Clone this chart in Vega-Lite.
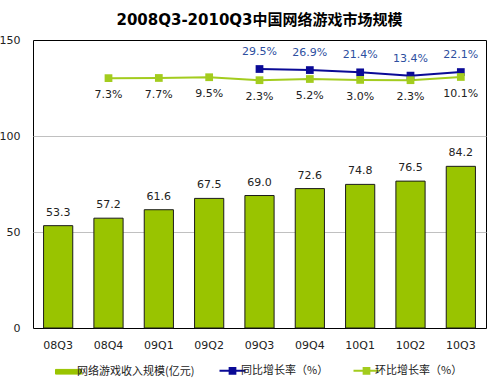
{
  "$schema": "https://vega.github.io/schema/vega-lite/v6.json",
  "width": 453,
  "height": 288,
  "autosize": "none",
  "padding": {"left": 33, "top": 40, "right": 2, "bottom": 58},
  "background": "#ffffff",
  "title": {
    "text": "2008Q3-2010Q3中国网络游戏市场规模",
    "font": "DejaVu Sans, Noto Sans CJK SC",
    "fontSize": 15,
    "fontWeight": "bold",
    "color": "#000000",
    "anchor": "middle",
    "offset": 6
  },
  "config": {
    "view": {"stroke": "#000000", "strokeWidth": 1},
    "font": "DejaVu Sans",
    "legend": {
      "title": null,
      "orient": "none",
      "legendX": 30,
      "legendY": 325,
      "direction": "horizontal",
      "symbolSize": 676,
      "labelFont": "Noto Sans CJK SC",
      "labelFontSize": 11,
      "labelColor": "#222222",
      "columnPadding": 20,
      "labelOffset": 3
    }
  },
  "datasets": {
    "rev": [
      {"quarter": "08Q3", "value": 53.3},
      {"quarter": "08Q4", "value": 57.2},
      {"quarter": "09Q1", "value": 61.6},
      {"quarter": "09Q2", "value": 67.5},
      {"quarter": "09Q3", "value": 69.0},
      {"quarter": "09Q4", "value": 72.6},
      {"quarter": "10Q1", "value": 74.8},
      {"quarter": "10Q2", "value": 76.5},
      {"quarter": "10Q3", "value": 84.2}
    ],
    "growth": [
      {"quarter": "09Q3", "series": "同比增长率（%）", "rate": 0.295},
      {"quarter": "09Q4", "series": "同比增长率（%）", "rate": 0.269},
      {"quarter": "10Q1", "series": "同比增长率（%）", "rate": 0.214},
      {"quarter": "10Q2", "series": "同比增长率（%）", "rate": 0.134},
      {"quarter": "10Q3", "series": "同比增长率（%）", "rate": 0.221},
      {"quarter": "08Q4", "series": "环比增长率（%）", "rate": 0.073},
      {"quarter": "09Q1", "series": "环比增长率（%）", "rate": 0.077},
      {"quarter": "09Q2", "series": "环比增长率（%）", "rate": 0.095},
      {"quarter": "09Q3", "series": "环比增长率（%）", "rate": 0.023},
      {"quarter": "09Q4", "series": "环比增长率（%）", "rate": 0.052},
      {"quarter": "10Q1", "series": "环比增长率（%）", "rate": 0.030},
      {"quarter": "10Q2", "series": "环比增长率（%）", "rate": 0.023},
      {"quarter": "10Q3", "series": "环比增长率（%）", "rate": 0.101}
    ]
  },
  "layer": [
    {
      "data": {"name": "rev"},
      "encoding": {
        "x": {
          "field": "quarter",
          "type": "nominal",
          "scale": {"paddingInner": 0.42, "paddingOuter": 0.21},
          "axis": {
            "title": null,
            "labelAngle": 0,
            "ticks": false,
            "domain": false,
            "labelPadding": 11,
            "labelFontSize": 11,
            "labelColor": "#222222",
            "labelFont": "DejaVu Sans"
          }
        },
        "y": {
          "field": "value",
          "type": "quantitative",
          "scale": {"domain": [0, 150]},
          "axis": {
            "title": null,
            "values": [0, 50, 100, 150],
            "ticks": false,
            "domain": false,
            "labelPadding": 13,
            "labelFontSize": 11,
            "labelColor": "#222222",
            "labelFont": "DejaVu Sans",
            "grid": true,
            "gridColor": {"condition": {"test": "datum.value === 50 || datum.value === 100", "value": "#c0c0c0"}, "value": "transparent"}
          }
        }
      },
      "layer": [
        {
          "mark": {"type": "bar", "stroke": "#1a1a1a", "strokeWidth": 1},
          "encoding": {
            "color": {
              "datum": "网络游戏收入规模(亿元)",
              "type": "nominal",
              "scale": {
                "domain": ["网络游戏收入规模(亿元)", "同比增长率（%）", "环比增长率（%）"],
                "range": ["#99c400", "#0a0a96", "#a3cc1e"]
              },
              "legend": {
                "title": null,
                "encode": {
                  "symbols": {
                    "update": {
                      "shape": {"signal": "datum.value === '网络游戏收入规模(亿元)' ? 'M-1,-0.18H1V0.18H-1Z' : 'M-1,0H1M-0.22,-0.22H0.22V0.22H-0.22Z'"},
                      "fill": {"signal": "datum.value === '网络游戏收入规模(亿元)' ? '#99c400' : (datum.value === '同比增长率（%）' ? '#0a0a96' : '#a3cc1e')"},
                      "stroke": {"signal": "datum.value === '网络游戏收入规模(亿元)' ? '#1a1a1a' : (datum.value === '同比增长率（%）' ? '#0a0a96' : '#a3cc1e')"},
                      "strokeWidth": {"signal": "datum.value === '网络游戏收入规模(亿元)' ? 1 : 2"},
                      "opacity": {"value": 1},
                      "fillOpacity": {"value": 1}
                    }
                  }
                }
              }
            }
          }
        },
        {
          "mark": {"type": "text", "baseline": "bottom", "dy": -8, "fontSize": 11, "color": "#222222", "font": "DejaVu Sans"},
          "encoding": {
            "text": {"field": "value", "type": "quantitative", "format": ".1f"}
          }
        }
      ]
    },
    {
      "data": {"name": "growth"},
      "encoding": {
        "x": {"field": "quarter", "type": "nominal"},
        "y": {
          "field": "rate",
          "type": "quantitative",
          "scale": {"domain": [-6, 1]},
          "axis": null
        }
      },
      "layer": [
        {
          "mark": {"type": "line", "strokeWidth": 2, "point": {"shape": "square", "size": 60, "filled": true, "opacity": 1}},
          "encoding": {
            "color": {
              "field": "series",
              "type": "nominal",
              "legend": {
                "title": null,
                "encode": {
                  "symbols": {
                    "update": {
                      "shape": {"signal": "datum.value === '网络游戏收入规模(亿元)' ? 'M-1,-0.18H1V0.18H-1Z' : 'M-1,0H1M-0.22,-0.22H0.22V0.22H-0.22Z'"},
                      "fill": {"signal": "datum.value === '网络游戏收入规模(亿元)' ? '#99c400' : (datum.value === '同比增长率（%）' ? '#0a0a96' : '#a3cc1e')"},
                      "stroke": {"signal": "datum.value === '网络游戏收入规模(亿元)' ? '#1a1a1a' : (datum.value === '同比增长率（%）' ? '#0a0a96' : '#a3cc1e')"},
                      "strokeWidth": {"signal": "datum.value === '网络游戏收入规模(亿元)' ? 1 : 2"},
                      "opacity": {"value": 1},
                      "fillOpacity": {"value": 1}
                    }
                  }
                }
              }
            }
          }
        },
        {
          "transform": [{"filter": "datum.series === '同比增长率（%）'"}],
          "mark": {"type": "text", "baseline": "middle", "dy": -17, "fontSize": 11, "color": "#2e4fa0", "font": "DejaVu Sans"},
          "encoding": {
            "text": {"field": "rate", "type": "quantitative", "format": ".1%"}
          }
        },
        {
          "transform": [{"filter": "datum.series === '环比增长率（%）'"}],
          "mark": {"type": "text", "baseline": "middle", "dy": 17, "fontSize": 11, "color": "#222222", "font": "DejaVu Sans"},
          "encoding": {
            "text": {"field": "rate", "type": "quantitative", "format": ".1%"}
          }
        }
      ]
    }
  ],
  "resolve": {"scale": {"y": "independent"}}
}
